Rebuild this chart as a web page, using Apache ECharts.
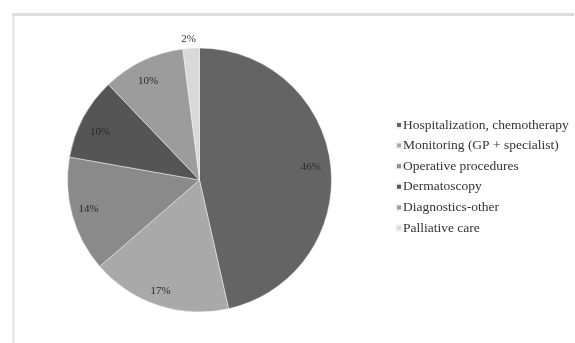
<!DOCTYPE html>
<html><head><meta charset="utf-8">
<script src="https://cdn.jsdelivr.net/npm/echarts@6/dist/echarts.min.js"></script>
<style>html,body{margin:0;padding:0;background:#fff}#c{width:575px;height:343px}</style>
</head><body><div id="c"></div>
<script>
const categories = ['Hospitalization, chemotherapy','Monitoring (GP + specialist)','Operative procedures','Dermatoscopy','Diagnostics-other','Palliative care'];
const values = [46, 17, 14, 10, 10, 2];
const labels = ['46%','17%','14%','10%','10%','2%'];
const colors = ['#646464','#a9a9a9','#8a8a8a','#555555','#9c9c9c','#d9d9d9'];

const chart = echarts.init(document.getElementById('c'), null, {renderer:'canvas'});
const mainData = categories.map((n,i)=>({name:n, value:values[i], itemStyle:{color:colors[i]},
  label: i===5 ? {show:true, position:'outside', formatter:labels[i]} : {show:false}}));
const labelData = categories.map((n,i)=>({name:n, value:values[i],
  label: i===5 ? {show:false} : {show:true, formatter:labels[i]}}));
const serif = '"Liberation Serif", "DejaVu Serif", serif';
const labelShift = [[-3,0],[-3,2],[0,-2],[2,6],[-2,5],[0,0]];
chart.setOption({
  animation:false,
  graphic:[
    {type:'line', shape:{x1:12,y1:14.5,x2:574,y2:14.5}, style:{stroke:'#dcdcdc', lineWidth:3}},
    {type:'line', shape:{x1:13.5,y1:13,x2:13.5,y2:343}, style:{stroke:'#e2e2e2', lineWidth:2}}
  ],
  legend:{
    orient:'vertical', left:390, top:113, itemWidth:6, itemHeight:6, itemGap:6.6,
    icon:'rect', selectedMode:false,
    textStyle:{fontFamily:serif, fontSize:13.5, lineHeight:14, color:'#333', padding:[0,0,0,-4]},
    data:categories
  },
  series:[
    {type:'pie', center:[199.5,180], radius:[0,132], startAngle:90, clockwise:true,
     silent:true, data:mainData,
     itemStyle:{borderColor:'#f4f4f4', borderWidth:0.5},
     label:{fontFamily:serif, fontSize:11, color:'#333'},
     labelLine:{show:false, length:3, length2:0},
     labelLayout:function(p){ return p.dataIndex===5 ? {dx:10, dy:-6} : {}; }},
    {type:'pie', center:[199.5,180], radius:[0,224], startAngle:90, clockwise:true,
     silent:true, data:labelData, legendHoverLink:false,
     itemStyle:{color:'rgba(0,0,0,0)'},
     label:{position:'inside', fontFamily:serif, fontSize:11, color:'#2a2a2a'},
     labelLayout:function(p){ const s = labelShift[p.dataIndex]; return {dx:s[0], dy:s[1]}; }}
  ]
});
</script></body></html>
